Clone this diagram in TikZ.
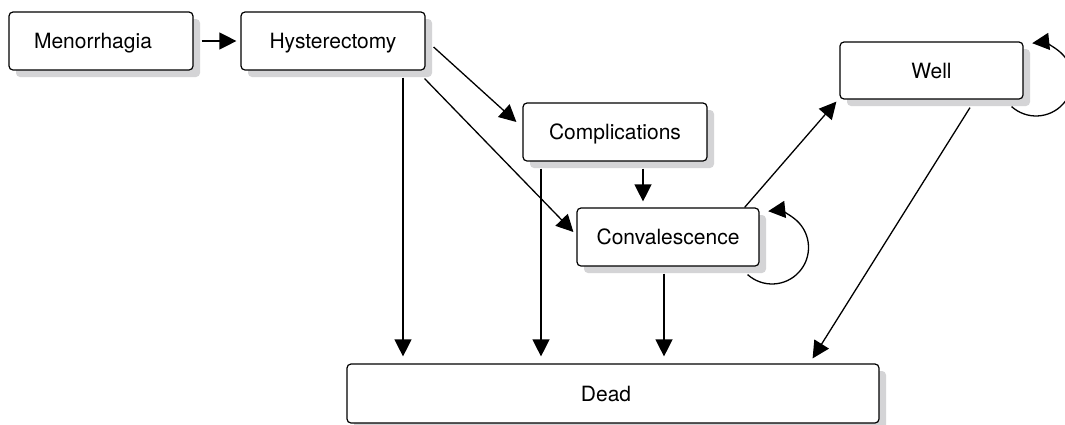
\documentclass[tikz,border=0pt]{standalone}
\usepackage{fontspec}
\setmainfont{TeX Gyre Heros}
\usetikzlibrary{arrows.meta,calc,shadows}
\definecolor{shadowgray}{HTML}{D4D4D6}
\tikzset{
  box/.style={draw=black, line width=1.2pt, rounded corners=4pt, fill=white,
    minimum height=58pt, inner sep=0pt, text height=15.3pt, text depth=0pt,
    font=\fontsize{21}{25}\selectfont,
    drop shadow={shadow xshift=7pt, shadow yshift=-7pt, fill=shadowgray, opacity=1}},
  arr/.style={line width=1.3pt, -{Triangle[length=17pt,width=17pt]}}
}
\begin{document}
\begin{tikzpicture}[x=1pt,y=-1pt]
\useasboundingbox (0,0) rectangle (1065,424);
\fill[white] (0,0) rectangle (1065,424);
\clip (0,0) rectangle (1065,424);
\node[box, minimum width=184pt] (menor) at (101,41) {Menorrhagia\hspace*{16pt}};
\node[box, minimum width=184pt] (hyst) at (333,41) {Hysterectomy};
\node[box, minimum width=184pt] (compl) at (615,132) {Complications};
\node[box, minimum width=182pt] (conv) at (668,237) {Convalescence};
\node[box, minimum width=183pt, minimum height=57pt] (well) at (931.5,70.5) {Well};
\node[box, minimum width=532pt, minimum height=59pt] (dead) at (613,393.5) {Dead\hspace*{14pt}};
\draw[arr] ($(menor.east)+(8,0)$) -- ($(hyst.west)+(-4,0)$);
\draw[arr] ($(hyst.east)+(8,6)$) -- ($(compl.west)+(-6,-10)$);
\draw[arr] ($(hyst.south east)+(-1,8)$) -- ($(conv.west)+(-3,-5)$);
\draw[arr] ($(hyst.south)+(70,7)$) -- ($(dead.north)+(-210,-7)$);
\draw[arr] ($(compl.south)+(-74,7)$) -- ($(dead.north)+(-72,-7)$);
\draw[arr] ($(compl.south)+(28,7)$) -- ($(conv.north)+(-25,-6)$);
\draw[arr] ($(conv.south)+(-4,7)$) -- ($(dead.north)+(51,-7)$);
\draw[arr] ($(conv.north east)+(-15,0)$) -- ($(well.south west)+(-3,2)$);
\draw[arr] ($(well.south)+(38.5,8)$) -- ($(dead.north east)+(-67,-5)$);
\draw[arr] ($(conv.south east)+(-12,8)$) arc[start angle=228, end angle=456, radius=36.5pt];
\draw[arr] ($(well.south east)+(-12,7)$) arc[start angle=228, end angle=456, radius=36.5pt];
\end{tikzpicture}
\end{document}
